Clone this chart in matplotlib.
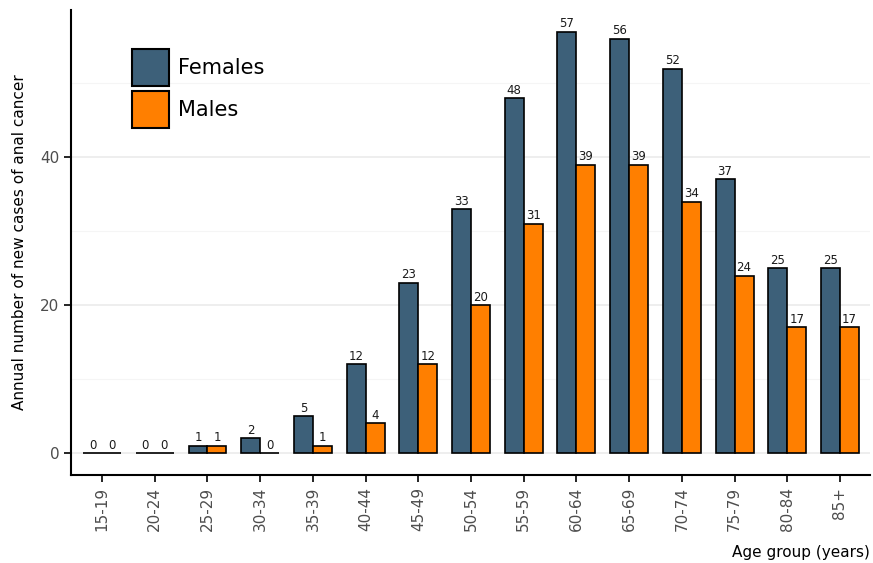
import matplotlib
matplotlib.use("Agg")
import matplotlib.pyplot as plt
import numpy as np
from matplotlib.patches import Patch
from matplotlib.ticker import MultipleLocator

age_groups = ["15-19", "20-24", "25-29", "30-34", "35-39", "40-44", "45-49",
              "50-54", "55-59", "60-64", "65-69", "70-74", "75-79", "80-84", "85+"]
females = [0, 0, 1, 2, 5, 12, 23, 33, 48, 57, 56, 52, 37, 25, 25]
males = [0, 0, 1, 0, 1, 4, 12, 20, 31, 39, 39, 34, 24, 17, 17]

female_color = "#3d6079"
male_color = "#ff7f00"

fig = plt.figure(figsize=(8.73, 5.63), dpi=100)
ax = fig.add_axes([0.0813, 0.1563, 0.9153, 0.8257])

x = np.arange(len(age_groups))
w = 0.36
bf = ax.bar(x - w / 2, females, w, color=female_color, edgecolor="black", linewidth=1.2, zorder=3)
bm = ax.bar(x + w / 2, males, w, color=male_color, edgecolor="black", linewidth=1.2, zorder=3)

for rect, v in zip(bf, females):
    ax.text(rect.get_x() + rect.get_width() / 2, v + 0.2, str(v), ha="center", va="bottom",
            fontsize=8.5, color="#1a1a1a", zorder=4)
for rect, v in zip(bm, males):
    ax.text(rect.get_x() + rect.get_width() / 2, v + 0.2, str(v), ha="center", va="bottom",
            fontsize=8.5, color="#1a1a1a", zorder=4)

ax.set_xlim(-0.59, 14.57)
ax.set_ylim(-2.97, 59.9)
ax.set_xticks(x)
ax.set_xticklabels(age_groups, rotation=90, fontsize=11, color="#4d4d4d")
ax.set_yticks([0, 20, 40])
ax.yaxis.set_minor_locator(MultipleLocator(10))
ax.tick_params(axis="y", which="minor", length=0)
ax.tick_params(axis="both", which="major", labelsize=11, labelcolor="#4d4d4d",
               length=5, width=1.2, color="black")

ax.grid(axis="y", which="major", color="#ebebeb", linewidth=1.2, zorder=0)
ax.grid(axis="y", which="minor", color="#f5f5f5", linewidth=0.8, zorder=0)

for s in ["top", "right"]:
    ax.spines[s].set_visible(False)
for s in ["left", "bottom"]:
    ax.spines[s].set_linewidth(1.5)

ax.set_ylabel("Annual number of new cases of anal cancer", fontsize=11, color="black", labelpad=9)
ax.set_xlabel("Age group (years)", fontsize=11, color="black", loc="right", labelpad=10)

handles = [Patch(facecolor=female_color, edgecolor="black", linewidth=1.5, label="Females"),
           Patch(facecolor=male_color, edgecolor="black", linewidth=1.5, label="Males")]
ax.legend(handles=handles, loc="upper left", bbox_to_anchor=(0.058, 0.9485), frameon=False,
          fontsize=15, handlelength=1.78, handleheight=2.355, handletextpad=0.45,
          labelspacing=0.24, borderpad=0.2)

fig.savefig("out.png", dpi=100)
